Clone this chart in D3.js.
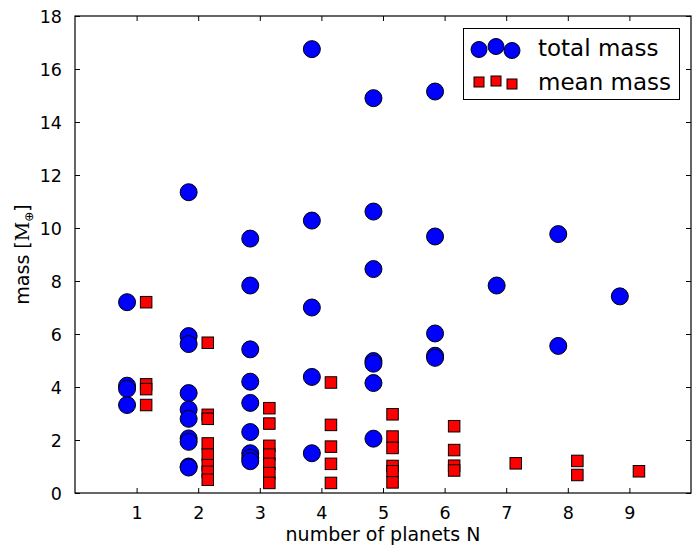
<!DOCTYPE html>
<html>
<head>
<meta charset="utf-8">
<script src="https://cdn.jsdelivr.net/npm/d3@7"></script>
<style>
  html, body { margin: 0; padding: 0; background: #fff; }
  svg { display: block; }
  text { font-family: "DejaVu Sans", sans-serif; fill: #000; }
</style>
</head>
<body>
<svg id="chart" width="693" height="546"></svg>
<script>
// ---- data ----
const totalN =    [1, 1, 1, 1,
                   2, 2, 2, 2, 2, 2, 2, 2, 2, 2,
                   3, 3, 3, 3, 3, 3, 3, 3, 3,
                   4, 4, 4, 4, 4,
                   5, 5, 5, 5, 5, 5, 5,
                   6, 6, 6, 6, 6,
                   7,
                   8, 8,
                   9];
const totalMass = [7.2, 4.05, 3.93, 3.32,
                   11.35, 5.92, 5.62, 3.77, 3.15, 2.8, 2.06, 1.93, 1.0, 0.96,
                   9.6, 7.83, 5.42, 4.2, 3.4, 2.3, 1.5, 1.33, 1.2,
                   16.75, 10.28, 7.0, 4.38, 1.5,
                   14.9, 10.62, 8.45, 4.98, 4.88, 4.15, 2.05,
                   15.15, 9.68, 6.02, 5.18, 5.1,
                   7.83,
                   9.77, 5.55,
                   7.42];
const meanN =     [1, 1, 1, 1,
                   2, 2, 2, 2, 2, 2, 2, 2,
                   3, 3, 3, 3, 3, 3, 3,
                   4, 4, 4, 4, 4,
                   5, 5, 5, 5, 5, 5,
                   6, 6, 6, 6,
                   7,
                   8, 8,
                   9];
const meanMass =  [7.2, 4.1, 3.92, 3.32,
                   5.67, 2.95, 2.8, 1.87, 1.45, 1.05, 0.8, 0.5,
                   3.2, 2.62, 1.78, 1.45, 1.1, 0.75, 0.38,
                   4.17, 2.57, 1.75, 1.1, 0.38,
                   2.97, 2.13, 1.7, 1.02, 0.82, 0.4,
                   2.52, 1.62, 1.03, 0.85,
                   1.12,
                   1.21, 0.68,
                   0.82];
const xTicks = [1, 2, 3, 4, 5, 6, 7, 8, 9];
const yTicks = [0, 2, 4, 6, 8, 10, 12, 14, 16, 18];
const seriesLabels = ["total mass", "mean mass"];

// ---- layout ----
const L = 75, R = 691, T = 16, B = 493;
const OFFSET = 0.155;
const svg = d3.select("#chart");
const x = d3.scaleLinear().domain([0, 10]).range([L, R]);
const y = d3.scaleLinear().domain([0, 18]).range([B, T]);

// frame
svg.append("rect").attr("x", L).attr("y", T).attr("width", R - L).attr("height", B - T)
  .attr("fill", "none").attr("stroke", "#000").attr("stroke-width", 1.2);

// axes with inward ticks
const TL = 5;
const xb = svg.append("g").attr("transform", `translate(0,${B})`)
  .call(d3.axisBottom(x).tickValues(xTicks).tickFormat(d3.format("d")).tickSizeInner(-TL).tickSizeOuter(0).tickPadding(TL + 9));
const xt = svg.append("g").attr("transform", `translate(0,${T})`)
  .call(d3.axisTop(x).tickValues(xTicks).tickFormat("").tickSizeInner(-TL).tickSizeOuter(0));
const yl = svg.append("g").attr("transform", `translate(${L},0)`)
  .call(d3.axisLeft(y).tickValues(yTicks).tickFormat(d3.format("d")).tickSizeInner(-TL).tickSizeOuter(0).tickPadding(TL + 8));
const yr = svg.append("g").attr("transform", `translate(${R},0)`)
  .call(d3.axisRight(y).tickValues(yTicks).tickFormat("").tickSizeInner(-TL).tickSizeOuter(0));
[xb, xt, yl, yr].forEach(g => {
  g.select(".domain").remove();
  g.selectAll(".tick line").attr("stroke", "#000").attr("stroke-width", 1);
  g.selectAll(".tick text").attr("font-family", "DejaVu Sans").attr("font-size", 17.5).attr("fill", "#000");
});
yl.selectAll(".tick text").attr("dy", "0.35em");

// axis titles
svg.append("text").attr("x", (L + R) / 2).attr("y", 541).attr("text-anchor", "middle")
  .attr("font-size", 19).text("number of planets N");
const yt = svg.append("text").attr("transform", `translate(29,${(T + B) / 2}) rotate(-90)`)
  .attr("text-anchor", "middle").attr("font-size", 19);
yt.append("tspan").text("mass [");
yt.append("tspan").attr("font-family", "DejaVu Serif").text("M");
yt.append("tspan").attr("font-size", 12).attr("dy", 4).text("⊕");
yt.append("tspan").attr("dy", -4).text("]");

// marks
const totalData = totalN.map((n, i) => ({ n, v: totalMass[i] }));
const meanData = meanN.map((n, i) => ({ n, v: meanMass[i] }));
const RAD = 8.5, SQ = 11.5;
svg.append("g").selectAll("circle").data(totalData).join("circle")
  .attr("cx", d => x(d.n - OFFSET)).attr("cy", d => y(d.v)).attr("r", RAD)
  .attr("fill", "#0000ff").attr("stroke", "#000").attr("stroke-width", 1);
svg.append("g").selectAll("rect").data(meanData).join("rect")
  .attr("x", d => x(d.n + OFFSET) - SQ / 2).attr("y", d => y(d.v) - SQ / 2)
  .attr("width", SQ).attr("height", SQ)
  .attr("fill", "#ff0000").attr("stroke", "#000").attr("stroke-width", 1);

// legend
const lg = svg.append("g");
lg.append("rect").attr("x", 463.5).attr("y", 28.5).attr("width", 216).attr("height", 71)
  .attr("fill", "#fff").attr("stroke", "#000").attr("stroke-width", 1);
const legX = [479, 496, 512];
const legYc = [49.5, 46.5, 50.5];
const legYs = [82, 81, 84];
legX.forEach((lx, i) => {
  lg.append("circle").attr("cx", lx).attr("cy", legYc[i]).attr("r", 8)
    .attr("fill", "#0000ff").attr("stroke", "#000").attr("stroke-width", 1);
  lg.append("rect").attr("x", lx - 5).attr("y", legYs[i] - 5).attr("width", 10).attr("height", 10)
    .attr("fill", "#ff0000").attr("stroke", "#000").attr("stroke-width", 1);
});
lg.append("text").attr("x", 538).attr("y", 56).attr("font-size", 23).text(seriesLabels[0]);
lg.append("text").attr("x", 538).attr("y", 90).attr("font-size", 23).text(seriesLabels[1]);
</script>
</body>
</html>
